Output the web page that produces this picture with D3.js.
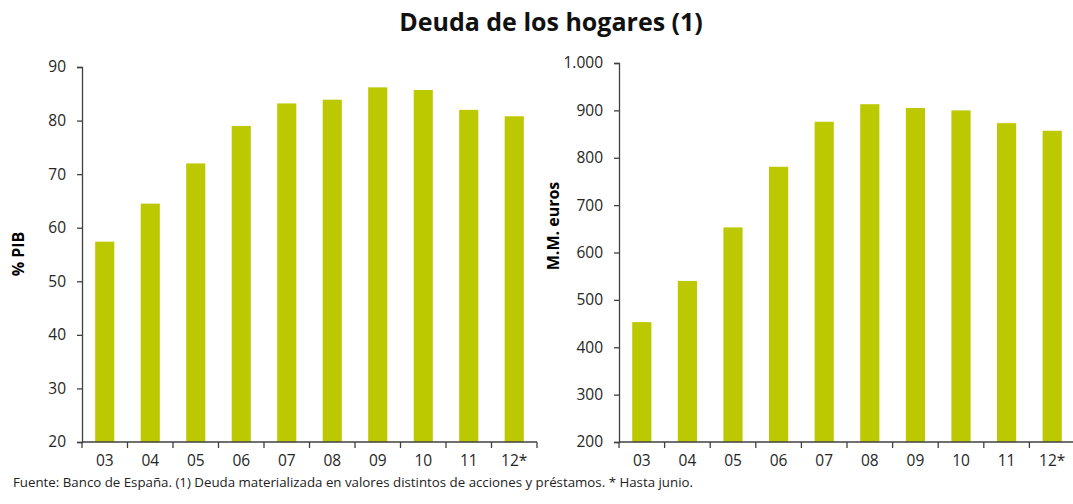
<!DOCTYPE html>
<html>
<head>
<meta charset="utf-8">
<script src="https://cdn.jsdelivr.net/npm/d3@7"></script>
<style>
  body { margin: 0; background: #fff; }
  svg text { font-family: "Open Sans", "Noto Sans", sans-serif; }
  .tick-label { font-size: 15.5px; fill: #262626; }
  .axis-title { font-size: 16px; font-weight: bold; fill: #000; }
</style>
</head>
<body>
<div id="chart"></div>
<script>
const years = ['03', '04', '05', '06', '07', '08', '09', '10', '11', '12*'];
const pctPib = [57.4, 64.5, 72.0, 79.0, 83.2, 83.9, 86.2, 85.7, 82.0, 80.8];
const mmEuros = [453, 540, 653, 781, 876, 913, 905, 900, 873, 857];
const pibTicks = [20, 30, 40, 50, 60, 70, 80, 90];
const eurosTicks = [200, 300, 400, 500, 600, 700, 800, 900, 1000];

const BAR_COLOR = '#bcc800';
const AXIS_COLOR = '#404040';

const width = 1073, height = 504;
const svg = d3.select('#chart').append('svg')
  .attr('width', width)
  .attr('height', height);

svg.append('text')
  .attr('x', 551)
  .attr('y', 31)
  .attr('text-anchor', 'middle')
  .style('font-size', '25px')
  .style('font-weight', 'bold')
  .style('fill', '#111')
  .text('Deuda de los hogares (1)');

const fmt = d3.formatLocale({ decimal: ',', thousands: '.', grouping: [3], currency: ['', '€'] }).format(',');

function drawPanel(opts) {
  const { values, domain, ticks, x0, x1, y0, y1, title, titleX, titleY } = opts;
  const g = svg.append('g');

  const x = d3.scaleBand()
    .domain(years)
    .range([x0, x1])
    .paddingInner(0.58)
    .paddingOuter(0.29);

  const y = d3.scaleLinear()
    .domain(domain)
    .range([y1, y0]);

  g.selectAll('rect')
    .data(values)
    .join('rect')
    .attr('x', (d, i) => x(years[i]))
    .attr('y', d => y(d))
    .attr('width', x.bandwidth())
    .attr('height', d => y(domain[0]) - y(d))
    .attr('fill', BAR_COLOR);

  // y axis
  const yAxis = d3.axisLeft(y)
    .tickValues(ticks)
    .tickSize(5)
    .tickPadding(11)
    .tickFormat(d => fmt(d));
  const ya = g.append('g')
    .attr('transform', `translate(${x0},0)`)
    .call(yAxis);
  ya.select('.domain').attr('stroke', AXIS_COLOR).attr('stroke-width', 1.3);
  ya.selectAll('.tick line').attr('stroke', AXIS_COLOR).attr('stroke-width', 1.3);
  ya.selectAll('.tick text').attr('class', 'tick-label').attr('font-family', null).attr('font-size', null);

  // x axis: tick marks at category boundaries
  const step = x.step();
  const bounds = d3.range(years.length + 1).map(i => x0 + i * step);
  g.append('line')
    .attr('x1', x0).attr('x2', x1)
    .attr('y1', y1).attr('y2', y1)
    .attr('stroke', AXIS_COLOR).attr('stroke-width', 1.3);
  g.selectAll('.xtick')
    .data(bounds)
    .join('line')
    .attr('class', 'xtick')
    .attr('x1', d => d).attr('x2', d => d)
    .attr('y1', y1).attr('y2', y1 + 6)
    .attr('stroke', AXIS_COLOR).attr('stroke-width', 1.3);
  g.selectAll('.xlabel')
    .data(years)
    .join('text')
    .attr('class', 'tick-label')
    .attr('x', d => x(d) + x.bandwidth() / 2)
    .attr('y', y1 + 24)
    .attr('text-anchor', 'middle')
    .text(d => d);

  g.append('text')
    .attr('class', 'axis-title')
    .attr('transform', `translate(${titleX},${titleY}) rotate(-90)`)
    .attr('text-anchor', 'middle')
    .attr('dy', '0.35em')
    .text(title);
}

drawPanel({
  values: pctPib, domain: [20, 90], ticks: pibTicks,
  x0: 82, x1: 537, y0: 67, y1: 442,
  title: '% PIB', titleX: 18, titleY: 254
});

drawPanel({
  values: mmEuros, domain: [200, 1000], ticks: eurosTicks,
  x0: 619, x1: 1075, y0: 63, y1: 442,
  title: 'M.M. euros', titleX: 553, titleY: 226
});

svg.append('text')
  .attr('x', 13)
  .attr('y', 487)
  .attr('textLength', 680)
  .attr('lengthAdjust', 'spacingAndGlyphs')
  .style('font-size', '12.5px')
  .style('fill', '#222')
  .text('Fuente: Banco de España. (1) Deuda materializada en valores distintos de acciones y préstamos. * Hasta junio.');
</script>
</body>
</html>
